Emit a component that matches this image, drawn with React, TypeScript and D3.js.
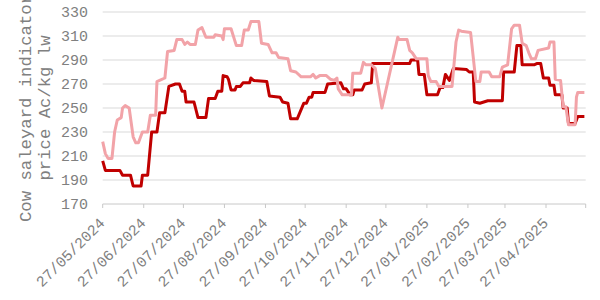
import React from "react";
import * as d3 from "d3";

const redDates = [
  "2024-05-27","2024-05-29","2024-06-09","2024-06-11","2024-06-17","2024-06-19","2024-06-25","2024-06-26","2024-06-30",
  "2024-07-03","2024-07-07","2024-07-09","2024-07-13","2024-07-16","2024-07-21","2024-07-24","2024-07-26","2024-07-28",
  "2024-07-29","2024-08-04","2024-08-07","2024-08-13","2024-08-15","2024-08-20","2024-08-22","2024-08-25","2024-08-26",
  "2024-08-29","2024-08-30","2024-09-01","2024-09-04","2024-09-05","2024-09-08","2024-09-10","2024-09-15","2024-09-16",
  "2024-09-18","2024-09-28","2024-09-30","2024-10-08","2024-10-10","2024-10-14","2024-10-16","2024-10-21","2024-10-26",
  "2024-10-28","2024-10-30","2024-11-01","2024-11-02","2024-11-11","2024-11-13","2024-11-23","2024-11-25","2024-11-27",
  "2024-11-30","2024-12-02","2024-12-03","2024-12-09","2024-12-11","2024-12-16","2024-12-17","2025-01-14","2025-01-15",
  "2025-01-20","2025-01-21","2025-01-25","2025-01-27","2025-02-04","2025-02-06","2025-02-08","2025-02-10","2025-02-13",
  "2025-02-16","2025-02-26","2025-02-28","2025-03-03","2025-03-04","2025-03-08","2025-03-14","2025-03-25","2025-03-26",
  "2025-04-03","2025-04-05","2025-04-08","2025-04-09","2025-04-18","2025-04-20","2025-04-23","2025-04-25","2025-04-29",
  "2025-04-30","2025-05-03","2025-05-04","2025-05-09","2025-05-10","2025-05-13","2025-05-14","2025-05-19","2025-05-21",
  "2025-05-26"
];
const redValues = [
  206,198,198,194,194,185,185,194,194,
  230,230,246,246,268,270,270,264,264,
  255,255,242,242,258,258,264,264,277,
  276,274,265,265,268,268,271,271,275,
  273,272,260,259,255,254,241,241,254,
  254,259,259,263,263,270,271,266,266,
  261,261,265,265,270,271,287,287,290,
  290,278,278,261,261,267,267,278,273,
  283,282,280,280,255,254,256,256,280,
  280,302,302,286,286,287,287,275,275,
  269,269,261,261,250,250,237,237,243,
  243
];

const pinkDates = [
  "2024-05-27","2024-05-29","2024-05-31","2024-06-03","2024-06-05","2024-06-07","2024-06-10","2024-06-11","2024-06-13",
  "2024-06-16","2024-06-19","2024-06-21","2024-06-23","2024-06-26","2024-06-30","2024-07-02","2024-07-06","2024-07-07",
  "2024-07-09","2024-07-13","2024-07-15","2024-07-20","2024-07-22","2024-07-26","2024-07-28","2024-07-30","2024-08-01",
  "2024-08-05","2024-08-07","2024-08-10","2024-08-13","2024-08-19","2024-08-20","2024-08-25","2024-08-26","2024-08-27",
  "2024-09-01","2024-09-05","2024-09-09","2024-09-11","2024-09-14","2024-09-16","2024-09-22","2024-09-24","2024-09-29",
  "2024-10-02","2024-10-05","2024-10-07","2024-10-14","2024-10-16","2024-10-20","2024-10-24","2024-10-31","2024-11-02",
  "2024-11-04","2024-11-07","2024-11-12","2024-11-15","2024-11-18","2024-11-20","2024-11-21","2024-11-24","2024-12-01",
  "2024-12-02","2024-12-08","2024-12-10","2024-12-12","2024-12-16","2024-12-19","2024-12-24","2025-01-05","2025-01-06",
  "2025-01-12","2025-01-14","2025-01-16","2025-01-19","2025-01-27","2025-01-28","2025-01-30","2025-02-03","2025-02-05",
  "2025-02-15","2025-02-18","2025-02-20","2025-02-22","2025-03-01","2025-03-05","2025-03-08","2025-03-09","2025-03-15",
  "2025-03-17","2025-03-23","2025-03-25","2025-03-29","2025-04-01","2025-04-03","2025-04-07","2025-04-09","2025-04-12",
  "2025-04-14","2025-04-16","2025-04-19","2025-04-21","2025-04-29","2025-04-30","2025-05-03","2025-05-04","2025-05-08",
  "2025-05-10","2025-05-12","2025-05-14","2025-05-19","2025-05-20","2025-05-21","2025-05-26"
];
const pinkValues = [
  222,212,208,208,230,240,242,250,252,
  250,226,221,221,230,230,244,244,272,
  273,275,297,298,307,307,303,305,303,
  303,315,317,309,309,311,310,307,316,
  316,302,302,315,315,322,322,304,303,
  296,296,292,291,281,280,276,276,278,
  275,277,277,274,273,275,266,261,261,
  279,279,288,286,286,283,250,309,307,
  307,298,296,291,291,277,272,272,268,
  268,305,315,314,313,272,272,280,280,
  276,276,284,286,316,319,319,304,302,
  296,291,291,298,300,305,305,274,273,
  251,251,236,236,259,263,263
];

const yTicks = [170, 190, 210, 230, 250, 270, 290, 310, 330];
const xTickLabels = [
  "27/05/2024","27/06/2024","27/07/2024","27/08/2024","27/09/2024","27/10/2024",
  "27/11/2024","27/12/2024","27/01/2025","27/02/2025","27/03/2025","27/04/2025"
];
const xDomain = ["27/05/2024", "27/05/2025"];
const yTitleLines = ["Cow saleyard indicator", "price Ac/kg lw"];

const W = 600, H = 300;
const plot = { left: 102.7, right: 585.7, top: 12, bottom: 204 };
const FONT = "'Liberation Mono', 'Courier New', monospace";
const TEXT = "#808080";

export default function App() {
  const parseIso = d3.timeParse("%Y-%m-%d");
  const parseDmy = d3.timeParse("%d/%m/%Y");
  const x = d3.scaleTime()
    .domain(xDomain.map((s) => parseDmy(s) as Date))
    .range([plot.left, plot.right]);
  const y = d3.scaleLinear().domain([170, 330]).range([plot.bottom, plot.top]);

  const line = d3.line<[Date, number]>()
    .x((d) => x(d[0]))
    .y((d) => y(d[1]));

  const red: [Date, number][] = redDates.map((s, i) => [parseIso(s) as Date, redValues[i]]);
  const pink: [Date, number][] = pinkDates.map((s, i) => [parseIso(s) as Date, pinkValues[i]]);

  const tickDates = [...xTickLabels, xDomain[1]].map((s) => parseDmy(s) as Date);

  return (
    <svg width={W} height={H} style={{ position: "absolute", left: 0, top: 0, background: "#fff" }}>
      {yTicks.map((t) => (
        <line key={t} x1={plot.left} x2={plot.right} y1={y(t)} y2={y(t)}
          stroke={t === 170 ? "#c8c8c8" : "#d9d9d9"} strokeWidth={1} />
      ))}
      {tickDates.map((d, i) => (
        <line key={i} x1={x(d)} x2={x(d)} y1={plot.bottom} y2={plot.bottom + 4} stroke="#c8c8c8" />
      ))}
      {yTicks.map((t) => (
        <text key={t} x={88} y={y(t)} dy="0.35em" textAnchor="end" fontFamily={FONT}
          fontSize={15} fill={TEXT}>{t}</text>
      ))}
      {xTickLabels.map((s, i) => (
        <text key={s} transform={`translate(${x(tickDates[i]) + 3},${plot.bottom + 20}) rotate(-45)`}
          textAnchor="end" fontFamily={FONT} fontSize={15} fill={TEXT}>{s}</text>
      ))}
      {yTitleLines.map((s, i) => (
        <text key={s} transform={`translate(${31 + i * 19},${(plot.top + plot.bottom) / 2}) rotate(-90)`}
          textAnchor="middle" fontFamily={FONT} fontSize={17.3} fill={TEXT}>{s}</text>
      ))}
      <path d={line(red) || ""} fill="none" stroke="#c00000" strokeWidth={3} strokeLinejoin="round" />
      <path d={line(pink) || ""} fill="none" stroke="#f2a3a8" strokeWidth={3} strokeLinejoin="round" />
    </svg>
  );
}
